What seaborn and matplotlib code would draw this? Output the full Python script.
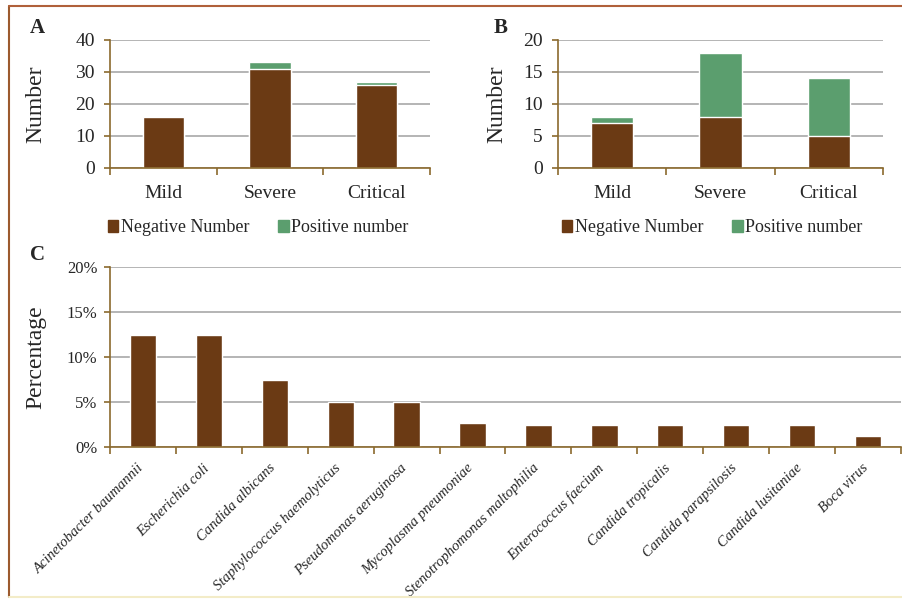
import matplotlib
matplotlib.use("Agg")
import matplotlib.pyplot as plt
import matplotlib.patches as mpatches
import matplotlib.transforms as mtransforms
import seaborn as sns
import pandas as pd
import numpy as np

# ---------------- data ----------------
severity = ["Mild", "Severe", "Critical"]
a_negative = [16, 31, 26]
a_positive = [0, 2, 1]
b_negative = [7, 8, 5]
b_positive = [1, 10, 9]
pathogens = ["Acinetobacter baumannii", "Escherichia coli", "Candida albicans",
             "Staphylococcus haemolyticus", "Pseudomonas aeruginosa",
             "Mycoplasma pneumoniae", "Stenotrophomonas maltophilia",
             "Enterococcus faecium", "Candida tropicalis", "Candida parapsilosis",
             "Candida lusitaniae", "Boca virus"]
percentages = [12.5, 12.5, 7.5, 5.0, 5.0, 2.7, 2.5, 2.5, 2.5, 2.5, 2.5, 1.25]
a_ticks = [0, 10, 20, 30, 40]
b_ticks = [0, 5, 10, 15, 20]
c_ticks = [0, 5, 10, 15, 20]
legend_labels = ["Negative Number", "Positive number"]

# ---------------- style ----------------
sns.set_theme(style="white")
plt.rcParams['font.family'] = ['Liberation Serif', 'DejaVu Serif']

BROWN = "#6B3A14"
GREEN = "#5B9E6E"
SPINE = "#8B6A2E"
GRID = "#A8A8A8"

fig = plt.figure(figsize=(9.03, 6.01), dpi=100)
fig.patch.set_facecolor("white")

W, H = 903.0, 601.0
def ax_rect(x0, x1, y_top, y_bot):
    return [x0 / W, 1 - y_bot / H, (x1 - x0) / W, (y_bot - y_top) / H]


def style_axes(ax, ticks, ylim, ylabel, ytick_fs, ylabel_fs, fmt=None, ypad=3):
    ax.set_ylim(*ylim)
    ax.set_yticks(ticks)
    if fmt:
        ax.set_yticklabels([fmt(t) for t in ticks])
    ax.yaxis.grid(True, color=GRID, linewidth=1.2)
    ax.set_axisbelow(True)
    for s in ["top", "right"]:
        ax.spines[s].set_visible(False)
    for s in ["left", "bottom"]:
        ax.spines[s].set_color(SPINE)
        ax.spines[s].set_linewidth(1.2)
    ax.tick_params(axis="y", which="major", length=4, width=1.2, color=SPINE,
                   labelsize=ytick_fs, pad=ypad, left=True)
    ax.set_ylabel(ylabel, fontsize=ylabel_fs)
    ax.set_xlabel("")
    n = len(ax.get_xticks())
    ax.set_xlim(-0.5, n - 0.5)
    ax.set_xticks(np.arange(-0.5, n, 1.0), minor=True)
    ax.tick_params(axis="x", which="minor", length=5, width=1.2, color=SPINE,
                   bottom=True, direction="out")
    ax.tick_params(axis="x", which="major", length=0)


def stacked_panel(rect, neg, pos, ticks, label, legend_x, label_x):
    ax = fig.add_axes(rect)
    df = pd.DataFrame({"cat": severity,
                       "neg": neg,
                       "total": [n + p for n, p in zip(neg, pos)]})
    sns.barplot(data=df, x="cat", y="total", color=GREEN, saturation=1,
                width=0.39, ax=ax)
    sns.barplot(data=df, x="cat", y="neg", color=BROWN, saturation=1,
                width=0.39, ax=ax)
    style_axes(ax, ticks, (0, ticks[-1]), "Number", 14, 17, ypad=7)
    ax.tick_params(axis="x", which="major", labelsize=14, pad=12)
    handles = [mpatches.Patch(color=BROWN, label=legend_labels[0]),
               mpatches.Patch(color=GREEN, label=legend_labels[1])]
    fig.legend(handles=handles, loc="center", bbox_to_anchor=(legend_x / W, 1 - 228 / H),
               ncol=2, frameon=False, fontsize=13, handlelength=0.6, handleheight=0.6,
               handletextpad=0.12, columnspacing=1.6, borderaxespad=0)
    fig.text(label_x / W, 1 - 28 / H, label, fontsize=15, fontweight="bold",
             ha="left", va="center")
    return ax


axA = stacked_panel(ax_rect(110, 430, 40, 168), a_negative, a_positive, a_ticks, "A", 258, 30)
axB = stacked_panel(ax_rect(558, 883, 40, 168), b_negative, b_positive, b_ticks, "B", 712, 494)

# panel C
axC = fig.add_axes(ax_rect(110, 901, 267, 447))
dfc = pd.DataFrame({"pathogen": pathogens, "pct": percentages})
sns.barplot(data=dfc, x="pathogen", y="pct", color=BROWN, saturation=1,
            width=0.4, ax=axC)
style_axes(axC, c_ticks, (0, 20), "Percentage", 12, 17, fmt=lambda t: f"{t:d}%", ypad=5)
axC.set_xticks(range(len(pathogens)))
axC.set_xticklabels(pathogens, rotation=45, ha="right", rotation_mode="default",
                    fontsize=10.5, style="italic")
axC.tick_params(axis="x", which="major", pad=10.5)
offset = mtransforms.ScaledTranslation(3 / 100, 0, fig.dpi_scale_trans)
for lbl in axC.get_xticklabels():
    lbl.set_transform(lbl.get_transform() + offset)
fig.text(30 / W, 1 - 255 / H, "C", fontsize=15, fontweight="bold", ha="left", va="center")

# y-label positions
axA.yaxis.set_label_coords(-64 / 320, 0.5)
axB.yaxis.set_label_coords(-51 / 325, 0.5)
axC.yaxis.set_label_coords(-64 / 791, 0.5)

# outer border
fig.add_artist(plt.Line2D([9 / W, 9 / W], [1 - 6 / H, 1 - 597 / H], color="#9C5A2E",
                          linewidth=1.5, transform=fig.transFigure))
fig.add_artist(plt.Line2D([9 / W, 1.0], [1 - 6 / H, 1 - 6 / H], color="#B0603A",
                          linewidth=1.5, transform=fig.transFigure))
fig.add_artist(plt.Line2D([9 / W, 1.0], [1 - 597 / H, 1 - 597 / H], color="#F3ECC8",
                          linewidth=1.5, transform=fig.transFigure))

fig.savefig("out.png", dpi=100)
